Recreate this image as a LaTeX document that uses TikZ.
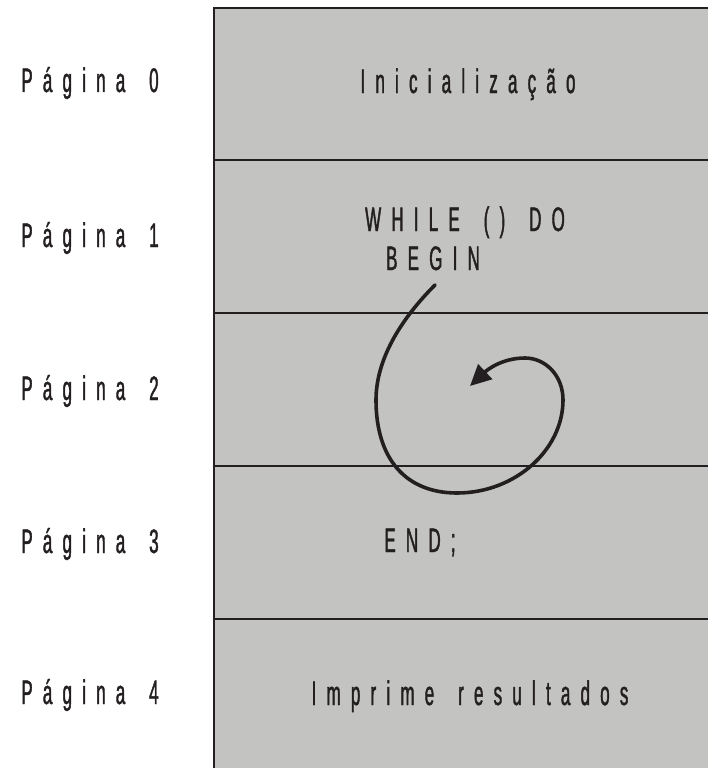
\documentclass[tikz,border=0pt]{standalone}
\usepackage{fontspec}
\usetikzlibrary{arrows.meta}
\newfontfamily\labfont[FakeStretch=0.5,LetterSpace=30,FakeBold=1.2]{Liberation Sans}
\newcommand\wgap{ \hspace{9pt}}
\definecolor{boxgray}{RGB}{195,195,193}
\definecolor{ink}{RGB}{35,31,32}
\begin{document}
\begin{tikzpicture}[x=1pt,y=-1pt,
  lab/.style={font=\labfont\fontsize{34}{40}\selectfont, text=ink, inner sep=0pt, anchor=base},
  sep/.style={draw=ink, line width=1.6pt},
  spiral/.style={draw=ink, line width=3.6pt, -{Triangle[length=21pt,width=20pt]}}]
\useasboundingbox (0,0) rectangle (707,768);
% box
\fill[boxgray] (214,8) rectangle (710,770);
\draw[ink, line width=2.5pt] (214,770) -- (214,8) -- (710,8);
\coordinate (l1) at (214,160); \coordinate (r1) at (710,160);
\coordinate (l2) at (214,313); \coordinate (r2) at (710,313);
\coordinate (l3) at (214,466); \coordinate (r3) at (710,466);
\coordinate (l4) at (214,619); \coordinate (r4) at (710,619);
\draw[sep] (l1) -- (r1);
\draw[sep] (l2) -- (r2);
\draw[sep] (l3) -- (r3);
\draw[sep] (l4) -- (r4);
% left labels
\node[lab] (p0) at (90,92) {Página\wgap 0};
\node[lab] (p1) at (90,247) {Página\wgap 1};
\node[lab] (p2) at (90,400) {Página\wgap 2};
\node[lab] (p3) at (90,553) {Página\wgap 3};
\node[lab] (p4) at (90,704) {Página\wgap 4};
% box texts
\node[lab] (init) at (468,93) {Inicialização};
\node[lab] (while) at (465,231) {WHILE\wgap ()\wgap DO};
\node[lab] (begin) at (433,270) {BEGIN};
\node[lab] (end) at (420,552) {END;};
\node[lab] (impr) at (470,705) {Imprime\wgap resultados};
% spiral arrow
\coordinate (s0) at (435,285);
\coordinate (s1) at (376,400);
\coordinate (s2) at (457,493);
\coordinate (s3) at (563,400);
\coordinate (s4) at (525,358);
\coordinate (s5) at (470,386);
\draw[spiral, line cap=round] (s0) .. controls (400,320) and (376,360) .. (s1)
  .. controls (376,458) and (405,493) .. (s2)
  .. controls (515,493) and (563,450) .. (s3)
  .. controls (563,375) and (545,358) .. (s4)
  .. controls (502,358) and (487,370) .. (s5);
\end{tikzpicture}
\end{document}
